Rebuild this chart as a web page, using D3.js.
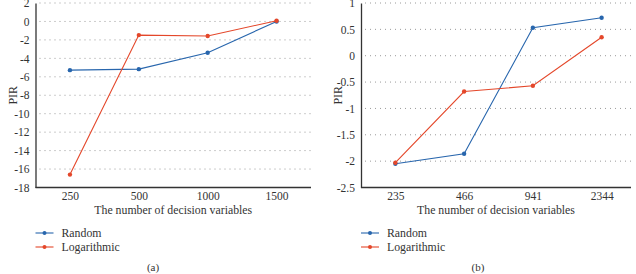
<!DOCTYPE html>
<html lang="en">
<head>
  <meta charset="UTF-8">
  <title>PIR vs number of decision variables</title>
  <style>
    body { margin: 0; background: #fff; }
  </style>
</head>
<body>
  <script src="https://d3js.org/d3.v7.min.js"></script>
  <script>
    const SVGWIDTH = 636;
    const SVGHEIGHT = 274;
    const BLUE = '#2866ad';
    const RED = '#e4472a';
    const FONT = '"Liberation Serif", serif';

    // panel (a)
    const catsA = ['250', '500', '1000', '1500'];
    const randomA = [-5.28, -5.17, -3.4, 0.0];
    const logA = [-16.6, -1.48, -1.58, 0.08];
    const ticksA = [2, 0, -2, -4, -6, -8, -10, -12, -14, -16, -18];

    // panel (b)
    const catsB = ['235', '466', '941', '2344'];
    const randomB = [-2.05, -1.86, 0.53, 0.72];
    const logB = [-2.03, -0.68, -0.57, 0.35];
    const ticksB = [1, 0.5, 0, -0.5, -1, -1.5, -2, -2.5];

    const seriesNames = ['Random', 'Logarithmic'];

    const svg = d3.select('body').append('svg')
      .attr('width', SVGWIDTH)
      .attr('height', SVGHEIGHT);

    function drawPanel(opts) {
      const g = svg.append('g');
      const top = 3, bottom = 187.5;

      const xScale = d3.scalePoint()
        .domain(opts.cats)
        .range([opts.left, opts.right])
        .padding(0.5);

      const yScale = d3.scaleLinear()
        .domain(opts.domain)
        .range([bottom, top]);

      // dotted grid
      g.selectAll('.grid')
        .data(opts.ticks.filter(t => t !== opts.domain[0]))
        .enter().append('line')
        .attr('x1', opts.left + 4)
        .attr('x2', opts.gridEnd)
        .attr('y1', d => yScale(d))
        .attr('y2', d => yScale(d))
        .attr('stroke', '#9a9a9a')
        .attr('stroke-width', 1)
        .attr('stroke-dasharray', '1,4');

      // y axis
      const yAxis = d3.axisLeft(yScale).tickValues(opts.ticks).tickSize(0).tickPadding(6)
        .tickFormat(d => String(d));
      const yG = g.append('g').attr('transform', `translate(${opts.left},0)`).call(yAxis);
      yG.select('.domain').attr('stroke', '#333').attr('stroke-width', 1.3);
      yG.selectAll('text').attr('font-size', 11.5).attr('fill', '#333').style('font-family', FONT);

      // x axis
      const xAxis = d3.axisBottom(xScale).tickSize(0).tickPadding(4);
      const xG = g.append('g').attr('transform', `translate(0,${bottom})`).call(xAxis);
      xG.select('.domain').attr('d', `M${opts.left},0H${opts.gridEnd}`)
        .attr('stroke', '#333').attr('stroke-width', 1.3);
      xG.selectAll('text').attr('font-size', 11.5).attr('fill', '#333').style('font-family', FONT);

      // axis titles
      g.append('text')
        .attr('transform', `translate(${opts.left - 19},${(top + bottom) / 2}) rotate(-90)`)
        .attr('text-anchor', 'middle')
        .attr('font-size', 12)
        .attr('fill', '#333')
        .style('font-family', FONT)
        .text('PIR');

      g.append('text')
        .attr('x', (opts.left + opts.axisEnd) / 2)
        .attr('y', 214)
        .attr('text-anchor', 'middle')
        .attr('font-size', 11.8)
        .attr('fill', '#333')
        .style('font-family', FONT)
        .text('The number of decision variables');

      // lines
      const line = d3.line()
        .x((d, i) => xScale(opts.cats[i]))
        .y(d => yScale(d));

      const series = [
        { name: seriesNames[0], values: opts.random, color: BLUE },
        { name: seriesNames[1], values: opts.log, color: RED }
      ];

      series.forEach(s => {
        g.append('path')
          .datum(s.values)
          .attr('d', line)
          .attr('fill', 'none')
          .attr('stroke', s.color)
          .attr('stroke-width', 1.1);
        g.selectAll(null)
          .data(s.values)
          .enter().append('circle')
          .attr('cx', (d, i) => xScale(opts.cats[i]))
          .attr('cy', d => yScale(d))
          .attr('r', 2.2)
          .attr('fill', s.color);
      });

      // legend
      series.forEach((s, i) => {
        const ly = 233 + i * 14;
        g.append('line')
          .attr('x1', opts.left).attr('x2', opts.left + 18)
          .attr('y1', ly).attr('y2', ly)
          .attr('stroke', s.color).attr('stroke-width', 1.1);
        g.append('circle')
          .attr('cx', opts.left + 9).attr('cy', ly).attr('r', 2)
          .attr('fill', s.color);
        g.append('text')
          .attr('x', opts.left + 26)
          .attr('y', ly + 4)
          .attr('font-size', 11.8)
          .attr('fill', '#333')
          .style('font-family', FONT)
          .text(s.name);
      });

      g.append('text')
        .attr('x', opts.labelX)
        .attr('y', 271)
        .attr('text-anchor', 'middle')
        .attr('font-size', 11)
        .attr('fill', '#333')
        .style('font-family', FONT)
        .text(opts.label);
    }

    drawPanel({
      cats: catsA, random: randomA, log: logA, ticks: ticksA,
      domain: [-18, 2], left: 35.5, right: 311, axisEnd: 311, gridEnd: 311,
      labelX: 153, label: '(a)'
    });

    drawPanel({
      cats: catsB, random: randomB, log: logB, ticks: ticksB,
      domain: [-2.5, 1], left: 361, right: 636, axisEnd: 631, gridEnd: 631,
      labelX: 478, label: '(b)'
    });
  </script>
</body>
</html>
